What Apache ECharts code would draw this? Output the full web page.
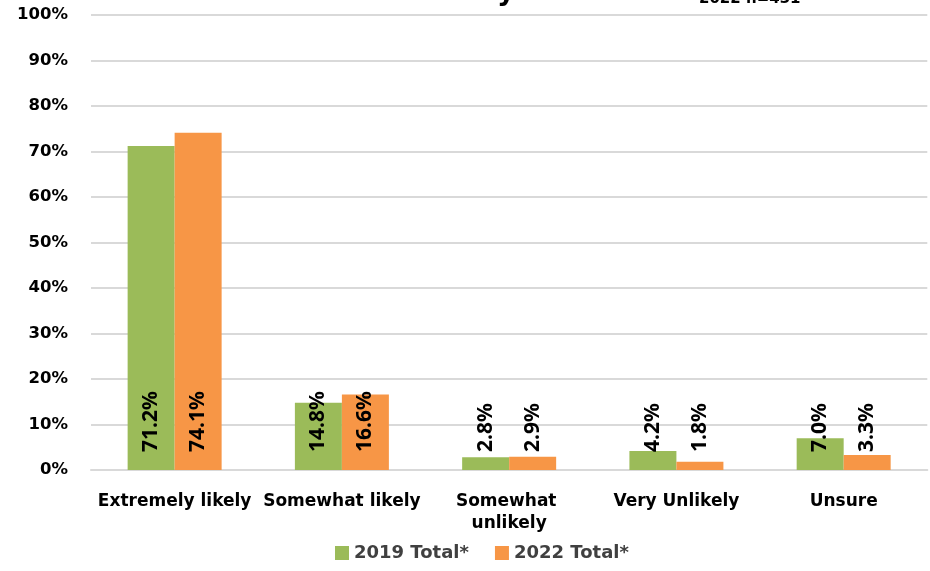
<!DOCTYPE html>
<html>
<head>
<meta charset="utf-8">
<script src="https://cdn.jsdelivr.net/npm/echarts@6/dist/echarts.min.js"></script>
<style>
  html, body { margin: 0; padding: 0; background: #fff; }
  #chart { width: 930px; height: 571px; }
</style>
</head>
<body>
<div id="chart"></div>
<script>
// Likelihood categories on the x axis
const categories = ['Extremely likely', 'Somewhat likely', 'Somewhat unlikely', 'Very Unlikely', 'Unsure'];

// Percent of respondents per survey year
const total2019 = [71.2, 14.8, 2.8, 4.2, 7.0];
const total2022 = [74.1, 16.6, 2.9, 1.8, 3.3];

const seriesNames = ['2019 Total*', '2022 Total*'];

// Y axis: 0% to 100% in 10-point steps
const yMin = 0;
const yMax = 100;
const yStep = 10;

const axisFont = 'DejaVu Sans';
const labelFont = 'Noto Sans';

const chart = echarts.init(document.getElementById('chart'), null, { renderer: 'canvas' });

const valueLabel = {
  show: true,
  position: 'insideBottom',
  distance: 18,
  rotate: 90,
  align: 'left',
  verticalAlign: 'middle',
  fontFamily: labelFont,
  fontWeight: 'bold',
  fontSize: 21,
  color: '#000',
  formatter: p => p.value.toFixed(1) + '%'
};

chart.setOption({
  animation: false,
  backgroundColor: '#ffffff',
  graphic: [
    {
      // tail of the heading, running off the top edge
      type: 'text',
      x: 497,
      y: -21,
      style: { text: 'y', font: 'bold 28px "DejaVu Sans"', fill: '#000' }
    },
    {
      // sample-size note, running off the top edge
      type: 'text',
      x: 699,
      y: -8,
      style: { text: '2022 n=431', font: 'bold 15px "DejaVu Sans"', fill: '#000' }
    }
  ],
  grid: { left: 91, right: 1, top: 15, bottom: 101, containLabel: false },
  legend: {
    left: 330,
    top: 539,
    itemWidth: 14,
    itemHeight: 14,
    itemGap: 26,
    icon: 'rect',
    textStyle: { fontFamily: axisFont, fontWeight: 'bold', fontSize: 18, color: '#404040' },
    data: seriesNames
  },
  xAxis: {
    type: 'category',
    data: categories,
    axisLine: { show: true, lineStyle: { color: '#d9d9d9', width: 2 } },
    axisTick: { show: false },
    axisLabel: {
      interval: 0,
      margin: 21,
      width: 167,
      overflow: 'break',
      lineHeight: 22,
      fontFamily: axisFont,
      fontWeight: 'bold',
      fontSize: 17,
      color: '#000'
    }
  },
  yAxis: {
    type: 'value',
    min: yMin,
    max: yMax,
    interval: yStep,
    axisLine: { show: false },
    axisTick: { show: false },
    splitLine: { lineStyle: { color: '#d9d9d9', width: 2 } },
    axisLabel: {
      margin: 23,
      formatter: '{value}%',
      fontFamily: axisFont,
      fontWeight: 'bold',
      fontSize: 16.5,
      color: '#000'
    }
  },
  series: [
    {
      name: seriesNames[0],
      type: 'bar',
      data: total2019,
      barWidth: 47,
      barGap: '0%',
      itemStyle: { color: '#9BBB59' },
      label: valueLabel
    },
    {
      name: seriesNames[1],
      type: 'bar',
      data: total2022,
      barWidth: 47,
      barGap: '0%',
      itemStyle: { color: '#F79646' },
      label: valueLabel
    }
  ]
});
</script>
</body>
</html>
